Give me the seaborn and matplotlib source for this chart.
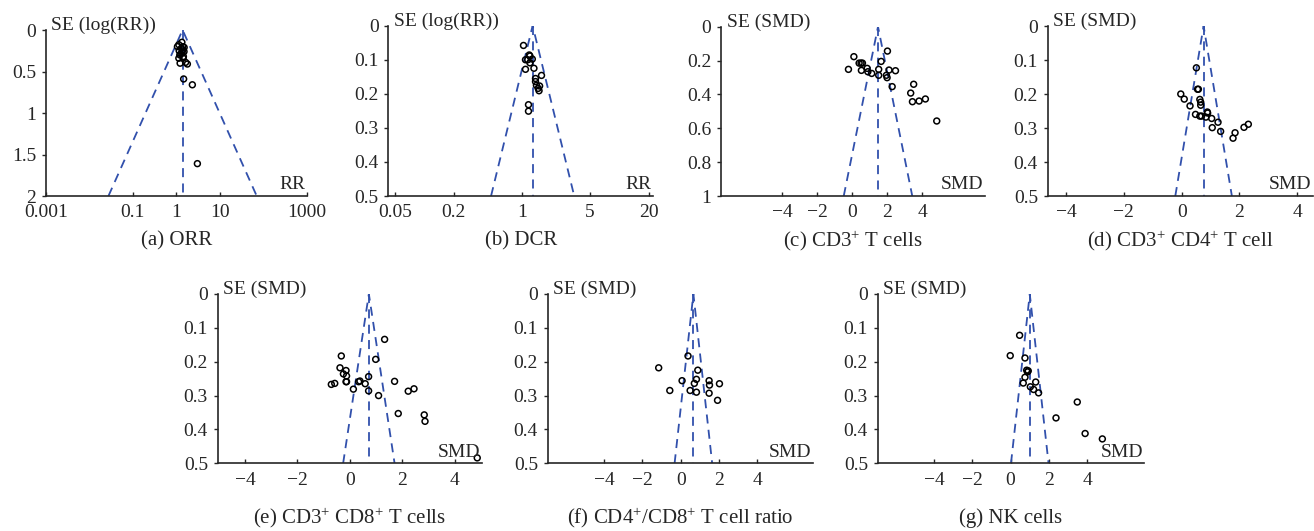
import numpy as np
import pandas as pd
import matplotlib
matplotlib.use("Agg")
import matplotlib.pyplot as plt
import seaborn as sns

# ---- data ----
# (a) ORR : risk ratio and SE(log RR)
orr_rr = [1.34, 1.14, 1.06, 1.41, 1.51, 1.16, 1.41, 1.27, 1.14, 1.43, 1.63, 1.22,
          1.30, 1.50, 1.20, 1.45, 1.35, 1.79, 1.47, 2.33, 3.04]
orr_se = [0.148, 0.177, 0.20, 0.20, 0.21, 0.25, 0.24, 0.29, 0.34, 0.34, 0.39, 0.40,
          0.22, 0.26, 0.30, 0.32, 0.27, 0.41, 0.59, 0.66, 1.61]
orr_center = 1.39

# (b) DCR
dcr_rr = [1.04, 1.09, 1.19, 1.21, 1.28, 1.15, 1.21, 1.09, 1.33, 1.59, 1.38,
          1.38, 1.41, 1.52, 1.47, 1.50, 1.17, 1.17]
dcr_se = [0.058, 0.100, 0.086, 0.089, 0.098, 0.100, 0.109, 0.128, 0.125, 0.146, 0.155,
          0.164, 0.175, 0.177, 0.184, 0.191, 0.232, 0.251]
dcr_center = 1.29

# (c) CD3+ T cells
cd3_smd = [-0.21, 0.10, 0.40, 0.51, 0.59, 0.53, 0.86, 0.90, 1.12, 1.52, 1.52, 1.66,
           2.02, 1.96, 2.00, 2.11, 2.48, 2.29, 3.52, 3.35, 3.45, 3.83, 4.19, 4.84]
cd3_se = [0.252, 0.177, 0.215, 0.215, 0.215, 0.258, 0.246, 0.266, 0.276, 0.252, 0.287,
          0.205, 0.144, 0.287, 0.301, 0.256, 0.260, 0.354, 0.340, 0.392, 0.443, 0.439,
          0.427, 0.557]
cd3_center = 1.48

# (d) CD3+ CD4+ T cell
cd4_smd = [0.51, 0.58, 0.55, -0.03, 0.09, 0.29, 0.63, 0.66, 0.66, 0.48, 0.63, 0.69,
           0.89, 0.90, 0.84, 1.04, 1.26, 1.06, 1.35, 1.78, 1.85, 2.16, 2.31]
cd4_se = [0.123, 0.186, 0.186, 0.200, 0.215, 0.235, 0.216, 0.224, 0.233, 0.260, 0.265,
          0.265, 0.253, 0.256, 0.268, 0.272, 0.283, 0.299, 0.310, 0.330, 0.314, 0.298,
          0.289]
cd4_center = 0.76

# (e) CD3+ CD8+ T cells
cd8_smd = [-0.33, -0.38, -0.25, -0.15, -0.13, -0.15, -0.13, -0.71, -0.58, 0.13, 0.33,
           0.38, 0.58, 0.71, 0.71, 0.98, 1.09, 1.32, 1.70, 1.84, 2.22, 2.44, 2.83, 2.86,
           4.85]
cd8_se = [0.183, 0.218, 0.236, 0.226, 0.242, 0.259, 0.259, 0.267, 0.264, 0.281, 0.259,
          0.257, 0.265, 0.244, 0.286, 0.193, 0.300, 0.134, 0.258, 0.353, 0.287, 0.280,
          0.357, 0.376, 0.484]
cd8_center = 0.72

# (f) CD4+/CD8+ T cell ratio
ratio_smd = [-1.15, -0.57, 0.07, 0.38, 0.49, 0.71, 0.82, 0.82, 0.89, 1.48, 1.50, 1.48,
             2.02, 1.92]
ratio_se = [0.218, 0.285, 0.256, 0.183, 0.285, 0.264, 0.252, 0.290, 0.225, 0.256, 0.269,
            0.293, 0.265, 0.314]
ratio_center = 0.66

# (g) NK cells
nk_smd = [0.47, -0.02, 0.75, 0.84, 0.92, 0.88, 0.75, 0.66, 1.31, 1.03, 1.20, 1.46,
          2.37, 3.48, 3.89, 4.79]
nk_se = [0.122, 0.182, 0.189, 0.225, 0.227, 0.230, 0.246, 0.263, 0.260, 0.274, 0.282,
         0.292, 0.366, 0.319, 0.412, 0.428]
nk_center = 1.0

captions = ["(a) ORR", "(b) DCR", r"(c) CD3$^{+}$ T cells",
            r"(d) CD3$^{+}$ CD4$^{+}$ T cell", r"(e) CD3$^{+}$ CD8$^{+}$ T cells",
            r"(f) CD4$^{+}$/CD8$^{+}$ T cell ratio", "(g) NK cells"]

sns.set_style("ticks")
plt.rcParams["font.family"] = ["Liberation Serif", "DejaVu Serif"]
plt.rcParams["mathtext.fontset"] = "custom"
plt.rcParams["mathtext.rm"] = "Liberation Serif"
plt.rcParams["mathtext.it"] = "Liberation Serif:italic"
plt.rcParams["font.size"] = 14

FUNNEL = "#3150ac"
W, H = 1314, 531


def box(x0, x1, ytop, ybot):
    return [x0 / W, 1 - ybot / H, (x1 - x0) / W, (ybot - ytop) / H]


def funnel_panel(fig, rect, x, se, center, se_max, log, xlim, xticks, xticklabels,
                 yticks, yticklabels, ylab, xlab, caption, cap_y):
    ax = fig.add_axes(rect)
    df = pd.DataFrame({"x": x, "se": se})
    # funnel lines (95% limits around pooled estimate)
    if log:
        lo = center * np.exp(-1.96 * se_max)
        hi = center * np.exp(1.96 * se_max)
    else:
        lo = center - 1.96 * se_max
        hi = center + 1.96 * se_max
    kw = dict(color=FUNNEL, lw=1.3, dashes=(5, 3.5), zorder=1)
    ax.plot([lo, center, hi], [se_max, 0, se_max], **kw)
    ax.plot([center, center], [0, se_max], **kw)
    sns.scatterplot(data=df, x="x", y="se", ax=ax, marker="o", s=18,
                    facecolor="none", edgecolor="black", linewidth=1.1, zorder=3)
    if log:
        ax.set_xscale("log")
        ax.minorticks_off()
    ax.set_xlim(*xlim)
    ax.set_ylim(se_max, 0)
    ax.set_xticks(xticks)
    ax.set_xticklabels(xticklabels)
    ax.set_yticks(yticks)
    ax.set_yticklabels(yticklabels)
    ax.set_xlabel("")
    ax.set_ylabel("")
    sns.despine(ax=ax)
    ax.tick_params(axis="x", direction="in", length=3, width=1, pad=6)
    ax.tick_params(axis="y", direction="out", length=3, width=1, pad=4)
    for s in ("left", "bottom"):
        ax.spines[s].set_linewidth(1.2)
    ax.annotate(ylab, xy=(0, 1), xycoords="axes fraction", xytext=(4, 3),
                textcoords="offset points", ha="left", va="center")
    ax.annotate(xlab, xy=(1, 0), xycoords="axes fraction", xytext=(-1, 2),
                textcoords="offset points", ha="right", va="bottom")
    pos = ax.get_position()
    fig.text((pos.x0 + pos.x1) / 2, cap_y, caption, ha="center", va="center",
             fontsize=15)
    return ax


fig = plt.figure(figsize=(W / 100, H / 100), dpi=100)

se05 = [0, 0.1, 0.2, 0.3, 0.4, 0.5]
se05_lab = ["0", "0.1", "0.2", "0.3", "0.4", "0.5"]
smd_ticks = [-4, -2, 0, 2, 4]
smd_lab = ["\u22124", "\u22122", "0", "2", "4"]
row1_y = 1 - 241 / H
row2_y = 1 - 518 / H

funnel_panel(fig, box(45.7, 307, 30, 196), orr_rr, orr_se, orr_center, 2.0, True,
             (0.001, 1000), [0.001, 0.1, 1, 10, 1000], ["0.001", "0.1", "1", "10", "1000"],
             [0, 0.5, 1, 1.5, 2], ["0", "0.5", "1", "1.5", "2"],
             "SE (log(RR))", "RR", captions[0], row1_y)

funnel_panel(fig, box(388.3, 653, 25.7, 196), dcr_rr, dcr_se, dcr_center, 0.5, True,
             (0.043, 22), [0.05, 0.2, 1, 5, 20], ["0.05", "0.2", "1", "5", "20"],
             se05, se05_lab, "SE (log(RR))", "RR", captions[1], row1_y)

funnel_panel(fig, box(721, 985, 26.7, 196), cd3_smd, cd3_se, cd3_center, 1.0, False,
             (-7.5, 7.6), smd_ticks, smd_lab,
             [0, 0.2, 0.4, 0.6, 0.8, 1.0], ["0", "0.2", "0.4", "0.6", "0.8", "1"],
             "SE (SMD)", "SMD", captions[2], row1_y)

funnel_panel(fig, box(1047.7, 1313, 26, 196), cd4_smd, cd4_se, cd4_center, 0.5, False,
             (-4.64, 4.55), smd_ticks, smd_lab, se05, se05_lab,
             "SE (SMD)", "SMD", captions[3], row1_y)

funnel_panel(fig, box(217.7, 481.7, 294, 463.3), cd8_smd, cd8_se, cd8_center, 0.5, False,
             (-5.04, 5.02), smd_ticks, smd_lab, se05, se05_lab,
             "SE (SMD)", "SMD", captions[4], row2_y)

funnel_panel(fig, box(547.7, 813, 294, 463.3), ratio_smd, ratio_se, ratio_center, 0.5, False,
             (-6.94, 6.9), smd_ticks, smd_lab, se05, se05_lab,
             "SE (SMD)", "SMD", captions[5], row2_y)

funnel_panel(fig, box(877.7, 1144.3, 294, 463.3), nk_smd, nk_se, nk_center, 0.5, False,
             (-6.94, 6.98), smd_ticks, smd_lab, se05, se05_lab,
             "SE (SMD)", "SMD", captions[6], row2_y)

fig.savefig("out.png", dpi=100)
